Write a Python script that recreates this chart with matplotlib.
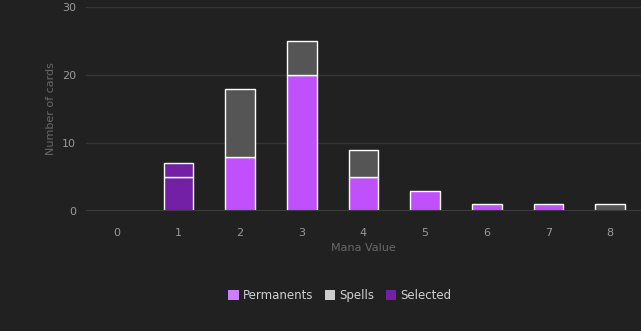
import numpy as np
import matplotlib.pyplot as plt
from matplotlib.patches import Patch

mana_values = ['0', '1', '2', '3', '4', '5', '6', '7', '8']
permanents = [0, 0, 8, 20, 5, 3, 1, 1, 0]
spells = [0, 0, 10, 5, 4, 0, 0, 0, 1]
selected_permanents = [0, 5, 0, 0, 0, 0, 0, 0, 0]
selected_spells = [0, 2, 0, 0, 0, 0, 0, 0, 0]

bg = '#212121'
c_perm = '#c050fc'
c_spell = '#555555'
c_sel = '#7420a4'

fig = plt.figure(figsize=(6.41, 3.31), dpi=100, facecolor=bg)
ax = fig.add_axes([0.134, 0.3625, 0.866, 0.6163], facecolor=bg)

x = np.arange(len(mana_values))
w = 0.48
bottom = np.zeros(len(x))
for vals, col in [(selected_permanents, c_sel), (selected_spells, c_sel),
                  (permanents, c_perm), (spells, c_spell)]:
    v = np.array(vals, dtype=float)
    mask = v > 0
    ax.bar(x[mask], v[mask], w, bottom=bottom[mask], color=col,
           edgecolor='white', linewidth=1.0, zorder=3)
    bottom += v

ax.set_xlim(-0.5, len(x) - 0.5)
ax.set_ylim(0, 30)
ax.set_yticks([0, 10, 20, 30])
ax.set_xticks(x)
ax.set_xticklabels(mana_values)
ax.grid(axis='y', color='#363636', linewidth=1, zorder=0)
ax.axhline(0, color='#3c3c3c', linewidth=1.5, zorder=4)
for s in ax.spines.values():
    s.set_visible(False)
ax.tick_params(length=0, colors='#9a9a9a', labelsize=8)
ax.tick_params(axis='y', pad=7)
ax.tick_params(axis='x', pad=12)
ax.set_xlabel('Mana Value', color='#686868', fontsize=8, labelpad=4)
ax.set_ylabel('Number of cards', color='#686868', fontsize=8, labelpad=4)

handles = [Patch(facecolor='#d07cff', label='Permanents'),
           Patch(facecolor='#cccccc', label='Spells'),
           Patch(facecolor='#7420a4', label='Selected')]
leg = fig.legend(handles=handles, loc='center', bbox_to_anchor=(0.53, 0.107), ncol=3,
                 frameon=False, fontsize=8.5, handlelength=0.9, handleheight=0.9,
                 handletextpad=0.3, columnspacing=1.0)
for t in leg.get_texts():
    t.set_color('#d0d0d0')

fig.savefig('out.png', dpi=100, facecolor=bg)
